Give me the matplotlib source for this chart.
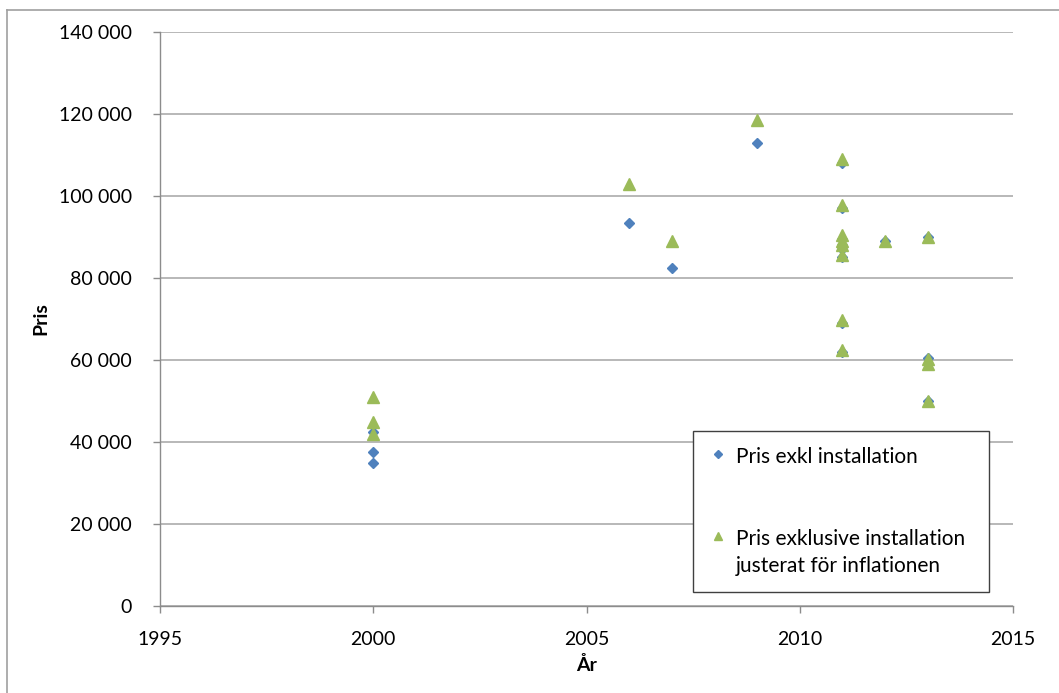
import matplotlib.pyplot as plt
from matplotlib.lines import Line2D
from matplotlib.ticker import FuncFormatter

plt.rcParams['font.family'] = ['Lato', 'DejaVu Sans']

# prices excluding installation, per year of purchase
ar_exkl = [2000, 2000, 2000, 2006, 2007, 2009,
           2011, 2011, 2011, 2011, 2011, 2011, 2011, 2011,
           2012, 2013, 2013, 2013, 2013]
pris_exkl = [35000, 37500, 42500, 93500, 82500, 113000,
             108000, 97000, 89500, 88000, 87000, 85000, 69000, 62000,
             89000, 90000, 60500, 59000, 50000]

# same prices adjusted for inflation
ar_just = [2000, 2000, 2000, 2006, 2007, 2009,
           2011, 2011, 2011, 2011, 2011, 2011, 2011, 2011,
           2012, 2013, 2013, 2013, 2013]
pris_just = [42000, 45000, 51000, 103000, 89100, 118600,
             109000, 97800, 90400, 89000, 88000, 85700, 69700, 62400,
             89000, 90000, 60300, 59000, 50000]

blue = '#4F81BD'
green = '#9BBB59'
grid_col = '#ababab'
spine_col = '#8c8c8c'

fig = plt.figure(figsize=(10.59, 6.93), dpi=100)
ax = fig.add_axes([160 / 1059, 1 - 606 / 693, 853 / 1059, 574 / 693])

ax.plot(ar_exkl, pris_exkl, linestyle='none', marker='D', markersize=5.6,
        color=blue, label='Pris exkl installation')
ax.plot(ar_just, pris_just, linestyle='none', marker='^', markersize=8.6,
        color=green, label='Pris exklusive installation\njusterat för inflationen')

ax.set_xlim(1995, 2015)
ax.set_ylim(0, 140000)
ax.set_xticks(range(1995, 2016, 5))
ax.set_yticks(range(0, 140001, 20000))
ax.yaxis.set_major_formatter(FuncFormatter(lambda v, p: f'{int(v):,}'.replace(',', ' ')))

ax.yaxis.grid(True, color=grid_col, linewidth=1.2)
ax.set_axisbelow(True)
for s in ['top', 'right']:
    ax.spines[s].set_visible(False)
for s in ['left', 'bottom']:
    ax.spines[s].set_color(spine_col)
    ax.spines[s].set_linewidth(1.0)

ax.tick_params(axis='y', direction='out', length=5, width=1, color=spine_col,
               pad=15, labelsize=14)
ax.tick_params(axis='x', direction='out', length=5, width=1, color=spine_col,
               pad=13, labelsize=14)

ax.set_ylabel('Pris', fontsize=14, fontweight='bold')
ax.set_xlabel('År', fontsize=14, fontweight='bold')
ax.yaxis.set_label_coords(-0.13, 0.5)
ax.xaxis.set_label_coords(0.5, -0.087)

leg = ax.legend(loc='upper left', bbox_to_anchor=(0.625, 0.026, 0.347, 0.279),
                mode='expand', fancybox=False, edgecolor='#404040', framealpha=1,
                fontsize=15, labelspacing=3.0, markerscale=0.7,
                handlelength=0.9, handletextpad=0.4, borderpad=0.75,
                borderaxespad=0)
leg.get_frame().set_linewidth(1.0)
for t in leg.get_texts():
    t.set_linespacing(1.45)
# keep each legend marker level with the first line of its label
for col in leg._legend_handle_box.get_children():
    for row in col.get_children():
        row.align = 'top'

# outer chart border
fig.add_artist(Line2D([7 / 1059, 7 / 1059], [0, 1 - 10 / 693],
                      color='#a0a0a0', linewidth=1.2))
fig.add_artist(Line2D([7 / 1059, 1], [1 - 10 / 693, 1 - 10 / 693],
                      color='#a0a0a0', linewidth=1.2))

fig.savefig('out.png', dpi=100)
